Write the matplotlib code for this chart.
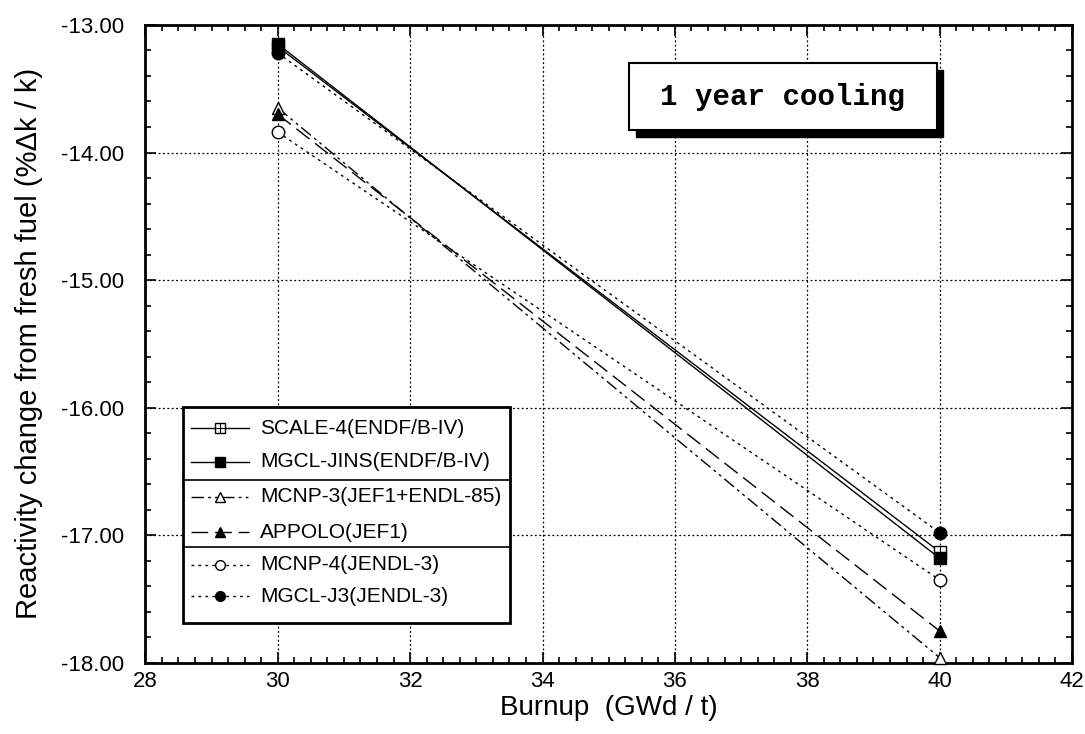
import matplotlib.pyplot as plt
from matplotlib.lines import Line2D
from matplotlib.patches import Rectangle
from matplotlib.ticker import MultipleLocator, FormatStrFormatter

# data
burnup = [30, 40]
scale4 = [-13.17, -17.13]
mgcl_jins = [-13.15, -17.18]
mcnp3 = [-13.65, -17.96]
appolo = [-13.70, -17.75]
mcnp4 = [-13.84, -17.35]
mgcl_j3 = [-13.22, -16.98]

labels = ["SCALE-4(ENDF/B-IV)", "MGCL-JINS(ENDF/B-IV)", "MCNP-3(JEF1+ENDL-85)",
          "APPOLO(JEF1)", "MCNP-4(JENDL-3)", "MGCL-J3(JENDL-3)"]

sans = ["Liberation Sans", "DejaVu Sans"]

fig = plt.figure(figsize=(10.85, 7.34), dpi=100)
ax = fig.add_axes([0.134, 0.097, 0.854, 0.869])

# series styles: (values, dashes, marker, facecolor)
styles = [
    (scale4, None, "s", "white"),
    (mgcl_jins, None, "s", "black"),
    (mcnp3, (9, 3, 2, 3, 2, 3), "^", "white"),
    (appolo, (12, 5), "^", "black"),
    (mcnp4, (2, 3), "o", "white"),
    (mgcl_j3, (2, 3), "o", "black"),
]

for vals, dashes, mk, fc in styles:
    ln, = ax.plot(burnup, vals, color="black", lw=1.0, marker=mk, ms=9,
                  mfc=fc, mec="black", mew=1.0, clip_on=False, zorder=3)
    if dashes is not None:
        ln.set_dashes(dashes)
# cross inside the SCALE-4 squares
ax.plot(burnup, scale4, ls="none", marker="+", ms=9, mew=0.8, color="black",
        clip_on=False, zorder=4)

ax.set_xlim(28, 42)
ax.set_ylim(-18, -13)
ax.xaxis.set_major_locator(MultipleLocator(2))
ax.xaxis.set_minor_locator(MultipleLocator(0.25))
ax.yaxis.set_major_locator(MultipleLocator(1))
ax.yaxis.set_minor_locator(MultipleLocator(0.2))
ax.yaxis.set_major_formatter(FormatStrFormatter("%.2f"))
ax.tick_params(which="both", direction="in", top=True, right=True, width=1.2)
ax.tick_params(which="major", length=8, labelsize=16)
ax.tick_params(which="minor", length=4)
ax.tick_params(axis="x", which="major", pad=6)
ax.tick_params(axis="y", which="major", pad=15)
for t in ax.get_xticklabels() + ax.get_yticklabels():
    t.set_family(sans)
for s in ax.spines.values():
    s.set_linewidth(2)
ax.grid(True, which="major", ls=(0, (1.5, 2)), color="black", lw=0.9)

ax.set_xlabel("Burnup  (GWd / t)", fontsize=20, family=sans, labelpad=2)
ax.set_ylabel("Reactivity change from fresh fuel (%\u0394k / k)", fontsize=21,
              family=sans)
ax.yaxis.set_label_coords(-0.11, 0.5)

# legend drawn by hand, with separators between groups
ax.add_patch(Rectangle((0.041, 0.063), 0.352, 0.338, transform=ax.transAxes,
                       facecolor="white", edgecolor="black", lw=2, zorder=5))
for ys in [0.287, 0.182]:
    ax.add_line(Line2D([0.041, 0.393], [ys, ys], transform=ax.transAxes,
                       color="black", lw=1.2, zorder=6))
rows = [0.368, 0.315, 0.260, 0.205, 0.154, 0.104]
for (vals, dashes, mk, fc), lab, yr in zip(styles, labels, rows):
    seg = Line2D([0.049, 0.112], [yr, yr], transform=ax.transAxes,
                 color="black", lw=1.0, zorder=6)
    if dashes is not None:
        seg.set_dashes(dashes)
    ax.add_line(seg)
    ax.add_line(Line2D([0.081], [yr], transform=ax.transAxes, marker=mk,
                       ms=7, mfc=fc, mec="black", color="black", zorder=7))
    if lab.startswith("SCALE"):
        ax.add_line(Line2D([0.081], [yr], transform=ax.transAxes, marker="+",
                           ms=7, mew=0.8, color="black", zorder=8))
    ax.text(0.124, yr, lab, transform=ax.transAxes, fontsize=15,
            family=sans, va="center", ha="left", zorder=7)

# title box with drop shadow
ax.add_patch(Rectangle((0.529, 0.825), 0.332, 0.105, transform=ax.transAxes,
                       facecolor="black", edgecolor="black", zorder=5))
ax.add_patch(Rectangle((0.522, 0.835), 0.332, 0.105, transform=ax.transAxes,
                       facecolor="white", edgecolor="black", lw=1.5, zorder=6))
ax.text(0.688, 0.887, "1 year cooling", transform=ax.transAxes, fontsize=21,
        family=["Liberation Mono", "DejaVu Sans Mono"], weight="bold",
        ha="center", va="center", zorder=7)

fig.savefig("out.png", dpi=100)
